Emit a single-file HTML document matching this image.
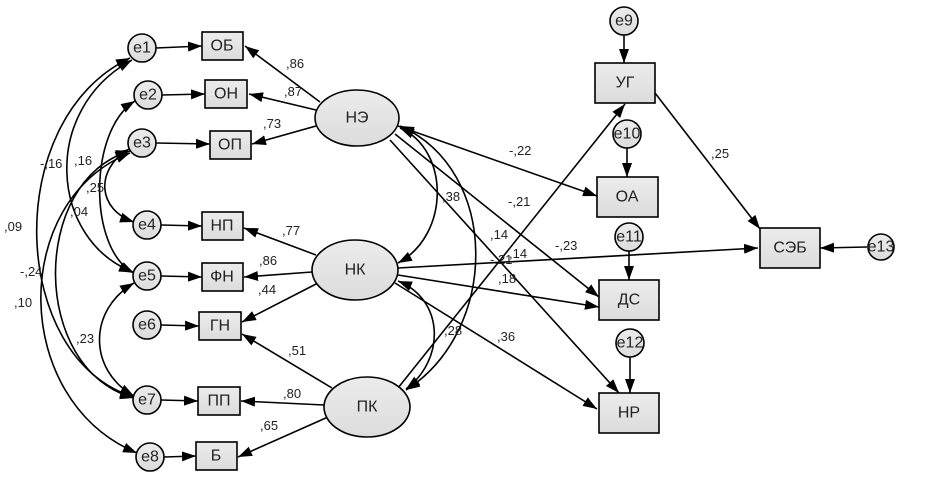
<!DOCTYPE html>
<html><head><meta charset="utf-8"><style>
html,body{margin:0;padding:0;background:#fff}
svg{display:block}
text{font-family:"Liberation Sans",Arial,sans-serif;fill:#222}
.n{font-size:16px;text-anchor:middle;dominant-baseline:central}
.l{font-size:13px}
</style></head><body>
<svg width="948" height="481" viewBox="0 0 948 481" xmlns="http://www.w3.org/2000/svg">
<defs>
<marker id="a" viewBox="0 0 14 10" refX="14" refY="5" markerWidth="14" markerHeight="10" orient="auto-start-reverse" markerUnits="userSpaceOnUse"><path d="M0,0L14,5L0,10z" fill="#000"/></marker>
<linearGradient id="g" x1="0" y1="0" x2="0" y2="1"><stop offset="0" stop-color="#ececec"/><stop offset="1" stop-color="#dcdcdc"/></linearGradient>
</defs>
<g stroke="#000" stroke-width="1.6" fill="none">
<path d="M130,58 C0,120 10,360 134,397" marker-start="url(#a)" marker-end="url(#a)"/>
<path d="M132,60 C40,110 50,240 133,272" marker-start="url(#a)" marker-end="url(#a)"/>
<path d="M135,101 C88,130 88,250 134,273" marker-start="url(#a)" marker-end="url(#a)"/>
<path d="M129,149 C94,170 98,210 134,222" marker-start="url(#a)" marker-end="url(#a)"/>
<path d="M130,151 C30,180 30,370 134,398" marker-start="url(#a)" marker-end="url(#a)"/>
<path d="M130,153 C10,200 10,400 137,453" marker-start="url(#a)" marker-end="url(#a)"/>
<path d="M134,283 C88,310 88,370 134,396" marker-start="url(#a)" marker-end="url(#a)"/>
<path d="M156,48 L202,46" marker-end="url(#a)"/>
<path d="M162,95 L205,94" marker-end="url(#a)"/>
<path d="M156,143 L210,144" marker-end="url(#a)"/>
<path d="M161,225 L202,226" marker-end="url(#a)"/>
<path d="M161,276 L202,277" marker-end="url(#a)"/>
<path d="M161,325 L199,326" marker-end="url(#a)"/>
<path d="M161,400 L198,401" marker-end="url(#a)"/>
<path d="M164,457 L196,456" marker-end="url(#a)"/>
<path d="M320,102 L245,46" marker-end="url(#a)"/>
<path d="M316,110 L249,94" marker-end="url(#a)"/>
<path d="M316,126 L252,144" marker-end="url(#a)"/>
<path d="M316,255 L244,228" marker-end="url(#a)"/>
<path d="M312,272 L244,277" marker-end="url(#a)"/>
<path d="M318,283 L242,322" marker-end="url(#a)"/>
<path d="M332,388 L242,334" marker-end="url(#a)"/>
<path d="M324,405 L241,401" marker-end="url(#a)"/>
<path d="M328,417 L238,457" marker-end="url(#a)"/>
<path d="M400,128 C450,150 450,235 398,263" marker-start="url(#a)" marker-end="url(#a)"/>
<path d="M400,126 C500,170 500,330 406,390" marker-start="url(#a)" marker-end="url(#a)"/>
<path d="M398,281 C445,300 445,360 406,389" marker-start="url(#a)" marker-end="url(#a)"/>
<path d="M398,126 L597,196" marker-end="url(#a)"/>
<path d="M395,134 L599,297" marker-end="url(#a)"/>
<path d="M390,140 L619,393" marker-end="url(#a)"/>
<path d="M398,268 L758,248" marker-end="url(#a)"/>
<path d="M398,275 L599,307" marker-end="url(#a)"/>
<path d="M395,283 L597,409" marker-end="url(#a)"/>
<path d="M398,388 L625,104" marker-end="url(#a)"/>
<path d="M655,93 L760,229" marker-end="url(#a)"/>
<path d="M624,35 L624,63" marker-end="url(#a)"/>
<path d="M627,148 L627,177" marker-end="url(#a)"/>
<path d="M629,251 L629,280" marker-end="url(#a)"/>
<path d="M630,357 L630,393" marker-end="url(#a)"/>
<path d="M867,247 L820,248" marker-end="url(#a)"/>
</g>
<g stroke="#000" stroke-width="1.6" fill="url(#g)">
<rect x="202" y="32" width="41" height="28"/><rect x="205" y="80" width="42" height="28"/>
<rect x="210" y="131" width="41" height="28"/><rect x="202" y="212" width="41" height="28"/>
<rect x="202" y="263" width="41" height="28"/><rect x="199" y="312" width="42" height="28"/>
<rect x="198" y="387" width="42" height="28"/><rect x="196" y="442" width="41" height="28"/>
<rect x="595" y="63" width="60" height="40"/><rect x="597" y="177" width="61" height="40"/>
<rect x="599" y="280" width="60" height="40"/><rect x="599" y="393" width="60" height="40"/>
<rect x="760" y="228" width="60" height="40"/>
<ellipse cx="357" cy="118" rx="42" ry="28"/><ellipse cx="355" cy="270" rx="43" ry="30"/><ellipse cx="367" cy="407" rx="43" ry="30"/>
<circle cx="142" cy="48" r="14"/><circle cx="148" cy="95" r="14"/><circle cx="142" cy="143" r="14"/>
<circle cx="147" cy="225" r="14"/><circle cx="147" cy="276" r="14"/><circle cx="147" cy="325" r="14"/>
<circle cx="147" cy="400" r="14"/><circle cx="150" cy="457" r="14"/>
<circle cx="624" cy="21" r="14"/><circle cx="627" cy="134" r="14"/><circle cx="629" cy="237" r="14"/><circle cx="630" cy="343" r="14"/><circle cx="881" cy="247" r="13"/>
</g>
<g>
<text x="222" y="46" class="n">ОБ</text><text x="226" y="94" class="n">ОН</text><text x="230" y="145" class="n">ОП</text>
<text x="222" y="226" class="n">НП</text><text x="222" y="277" class="n">ФН</text><text x="220" y="326" class="n">ГН</text>
<text x="219" y="401" class="n">ПП</text><text x="216" y="456" class="n">Б</text>
<text x="625" y="83" class="n">УГ</text><text x="627" y="197" class="n">ОА</text><text x="629" y="300" class="n">ДС</text><text x="629" y="413" class="n">НР</text><text x="790" y="248" class="n">СЭБ</text>
<text x="357" y="118" class="n">НЭ</text><text x="355" y="270" class="n">НК</text><text x="367" y="407" class="n">ПК</text>
<text x="142" y="48" class="n">e1</text><text x="148" y="95" class="n">e2</text><text x="142" y="143" class="n">e3</text>
<text x="147" y="225" class="n">e4</text><text x="147" y="276" class="n">e5</text><text x="147" y="325" class="n">e6</text>
<text x="147" y="400" class="n">e7</text><text x="150" y="457" class="n">e8</text>
<text x="624" y="21" class="n">e9</text><text x="627" y="134" class="n">e10</text><text x="629" y="237" class="n">e11</text><text x="630" y="343" class="n">e12</text><text x="881" y="247" class="n">e13</text>
</g>
<g>
<text x="286" y="68" class="l">,86</text><text x="284" y="96" class="l">,87</text><text x="263" y="128" class="l">,73</text>
<text x="282" y="235" class="l">,77</text><text x="259" y="265" class="l">,86</text><text x="258" y="294" class="l">,44</text>
<text x="288" y="355" class="l">,51</text><text x="283" y="398" class="l">,80</text><text x="260" y="430" class="l">,65</text>
<text x="40" y="168" class="l">-,16</text><text x="74" y="165" class="l">,16</text><text x="86" y="192" class="l">,25</text>
<text x="70" y="216" class="l">,04</text><text x="4" y="231" class="l">,09</text><text x="20" y="276" class="l">-,24</text>
<text x="14" y="307" class="l">,10</text><text x="76" y="343" class="l">,23</text>
<text x="442" y="201" class="l">,38</text><text x="444" y="335" class="l">,28</text>
<text x="509" y="155" class="l">-,22</text><text x="508" y="206" class="l">-,21</text><text x="490" y="239" class="l">,14</text>
<text x="490" y="264" class="l">-,21</text><text x="509" y="258" class="l">,14</text><text x="555" y="250" class="l">-,23</text>
<text x="498" y="283" class="l">,18</text><text x="497" y="341" class="l">,36</text><text x="711" y="158" class="l">,25</text>
</g>
</svg>
</body></html>
